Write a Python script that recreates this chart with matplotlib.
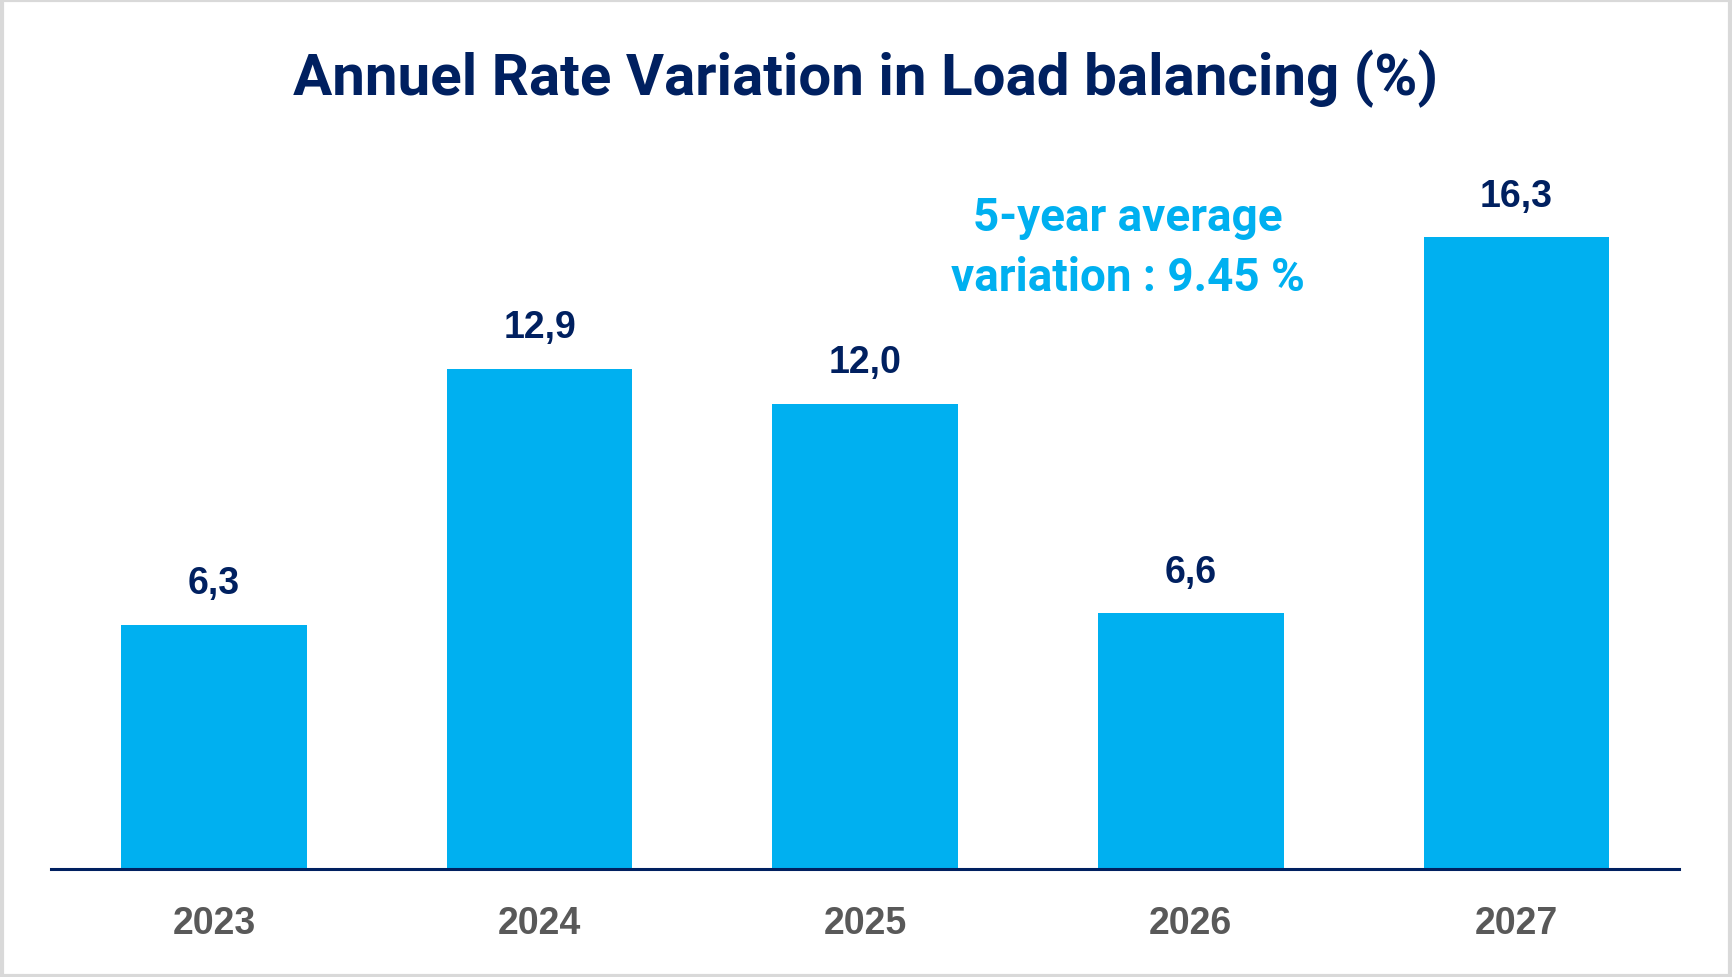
import matplotlib
matplotlib.use("Agg")
import matplotlib.pyplot as plt
from matplotlib.patches import Rectangle

# Data
years = ["2023", "2024", "2025", "2026", "2027"]
values = [6.3, 12.9, 12.0, 6.6, 16.3]
value_labels = ["6,3", "12,9", "12,0", "6,6", "16,3"]
title = "Annuel Rate Variation in Load balancing (%)"
note = "5-year average\nvariation : 9.45 %"

NAVY = "#002060"
CYAN = "#00B0F0"
GRAY = "#595959"

fig = plt.figure(figsize=(17.32, 9.78), dpi=100)
ax = fig.add_axes([0.0295, 0.1105, 0.940, 0.733])

x = range(len(years))
ax.bar(x, values, width=0.57, color=CYAN, zorder=2)
ax.set_xlim(-0.5, 4.5)
ax.set_ylim(0, 18.5)

for xi, v, lab in zip(x, values, value_labels):
    ax.annotate(lab, (xi, v), xytext=(0, 17), textcoords="offset points",
                ha="center", va="bottom", fontsize=27, fontweight="bold",
                color=NAVY, family=["Liberation Sans", "DejaVu Sans"])

ax.set_xticks(list(x))
ax.set_xticklabels(years, fontsize=27, fontweight="bold", color=GRAY,
                   family=["Liberation Sans", "DejaVu Sans"])
ax.tick_params(axis="x", length=0, pad=26)
ax.set_yticks([])
for s in ["top", "right", "left"]:
    ax.spines[s].set_visible(False)
ax.spines["bottom"].set_color(NAVY)
ax.spines["bottom"].set_linewidth(2.2)

fig.text(0.4995, 0.9195, title, ha="center", va="center", fontsize=42,
         fontweight="bold", color=NAVY, family=["Roboto", "DejaVu Sans"])

fig.text(0.651, 0.7465, note, ha="center", va="center", fontsize=33,
         fontweight="bold", color=CYAN, linespacing=1.47,
         family=["Roboto", "DejaVu Sans"])

# light grey frame around the picture
fig.patches.append(Rectangle((0.001, 0.0015), 0.998, 0.997, transform=fig.transFigure,
                             fill=False, edgecolor="#D9D9D9", linewidth=3))

fig.savefig("out.png", dpi=100, facecolor="white")
